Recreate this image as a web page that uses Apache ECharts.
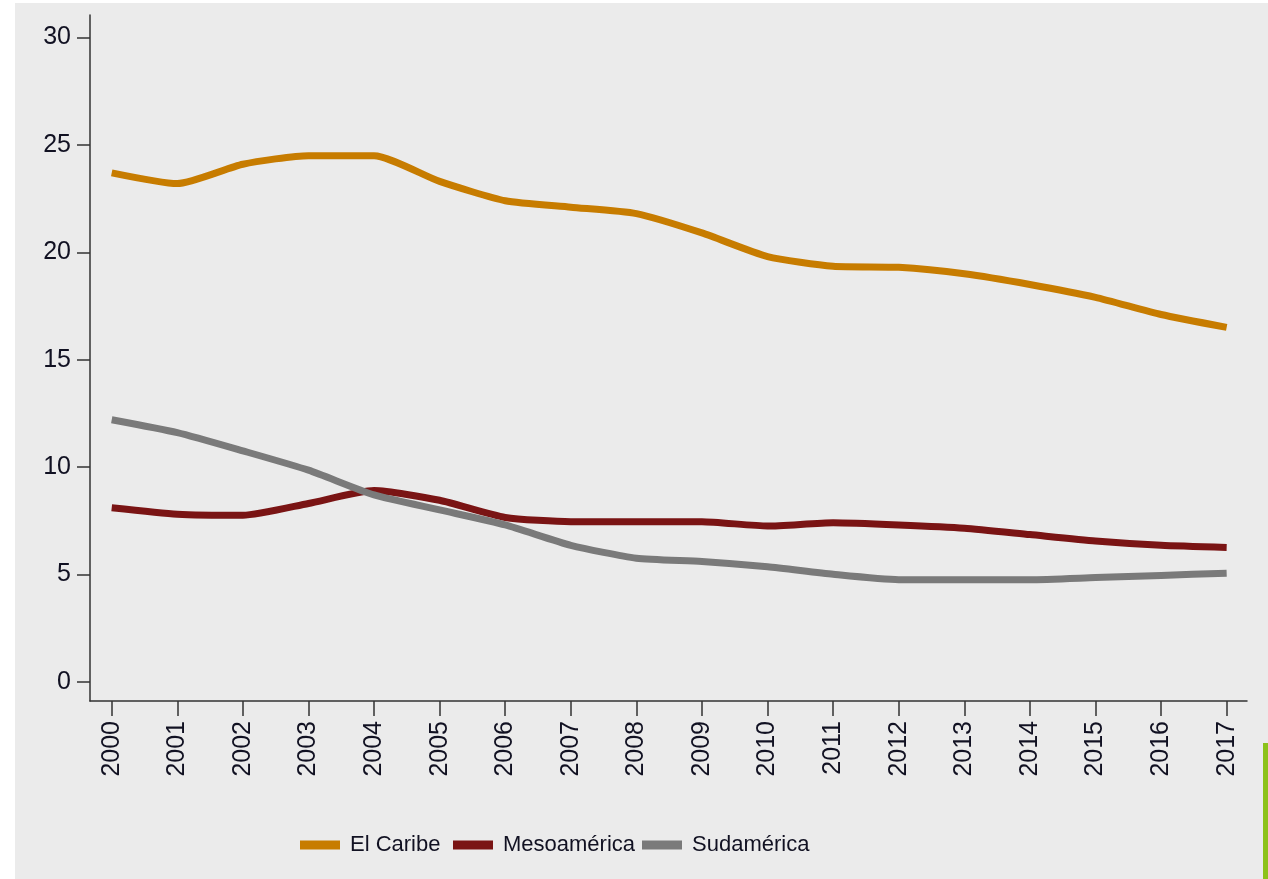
<!DOCTYPE html>
<html>
<head>
<meta charset="utf-8">
<script src="https://cdn.jsdelivr.net/npm/echarts@6/dist/echarts.min.js"></script>
<style>
html,body{margin:0;padding:0;background:#fff;}
#chart{width:1268px;height:879px;}
</style>
</head>
<body>
<div id="chart"></div>
<script>
let years=[2000,2001,2002,2003,2004,2005,2006,2007,2008,2009,2010,2011,2012,2013,2014,2015,2016,2017]
let caribe=[23.7,23.2,24.1,24.5,24.5,23.3,22.4,22.1,21.8,20.9,19.8,19.35,19.3,19.0,18.5,17.9,17.1,16.5]
let meso=[8.1,7.8,7.75,8.3,8.9,8.45,7.65,7.45,7.45,7.45,7.25,7.4,7.3,7.15,6.85,6.55,6.35,6.25]
let suda=[12.2,11.6,10.75,9.85,8.7,8.0,7.3,6.35,5.75,5.6,5.35,5.0,4.75,4.75,4.75,4.85,4.95,5.05]
let yTicks=[0,5,10,15,20,25,30]
let names=["El Caribe","Mesoamérica","Sudamérica"]
let colors=['#c77c00','#7a1414','#7a7a7a']
let legendLeft=[300,453,642]

let chart=echarts.init(document.getElementById('chart'))
let pairs=arr=>years.map((y,i)=>[y,arr[i]])
let mkSeries=(name,arr,color)=>({
    name:name,
    type:'line',
    data:pairs(arr),
    smooth:0.2,
    showSymbol:false,
    symbol:'none',
    lineStyle:{width:7,color:color,cap:'butt'},
    itemStyle:{color:color}
})
// one legend per item so the spacing follows the picture
let legends=names.map((n,i)=>({
    left:legendLeft[i],
    top:834,
    padding:0,
    itemWidth:40,
    itemHeight:9,
    icon:'rect',
    textStyle:{fontSize:22,color:'#111122',padding:[0,0,0,5]},
    data:[n]
}))

chart.setOption({
    backgroundColor:'#ebebeb',
    animation:false,
    textStyle:{fontFamily:'Liberation Sans, Arial, sans-serif'},
    graphic:[
        {type:'rect',shape:{x:0,y:0,width:15,height:879},style:{fill:'#fff'}},
        {type:'rect',shape:{x:0,y:0,width:1268,height:3},style:{fill:'#fff'}},
        {type:'rect',shape:{x:1263,y:743,width:5,height:136},style:{fill:'#8cc21a'}}
    ],
    grid:{left:90,right:21,top:15,bottom:178},
    legend:legends,
    xAxis:{
        type:'value',
        min:1999.669,
        max:2017.31,
        splitLine:{show:false},
        axisLine:{onZero:false,lineStyle:{color:'#333',width:1.5}},
        axisTick:{show:true,length:15,lineStyle:{color:'#333',width:1.5},customValues:years},
        axisLabel:{rotate:90,fontSize:25,color:'#111122',margin:20,customValues:years,formatter:v=>String(v)}
    },
    yAxis:{
        type:'value',
        min:-0.9,
        max:31.05,
        splitLine:{show:false},
        axisLine:{show:true,onZero:false,lineStyle:{color:'#333',width:1.5}},
        axisTick:{show:true,length:13,lineStyle:{color:'#333',width:1.5},customValues:yTicks},
        axisLabel:{fontSize:25,color:'#111122',margin:19,customValues:yTicks}
    },
    series:[
        mkSeries(names[0],caribe,colors[0]),
        mkSeries(names[1],meso,colors[1]),
        mkSeries(names[2],suda,colors[2])
    ]
})
</script>
</body>
</html>
